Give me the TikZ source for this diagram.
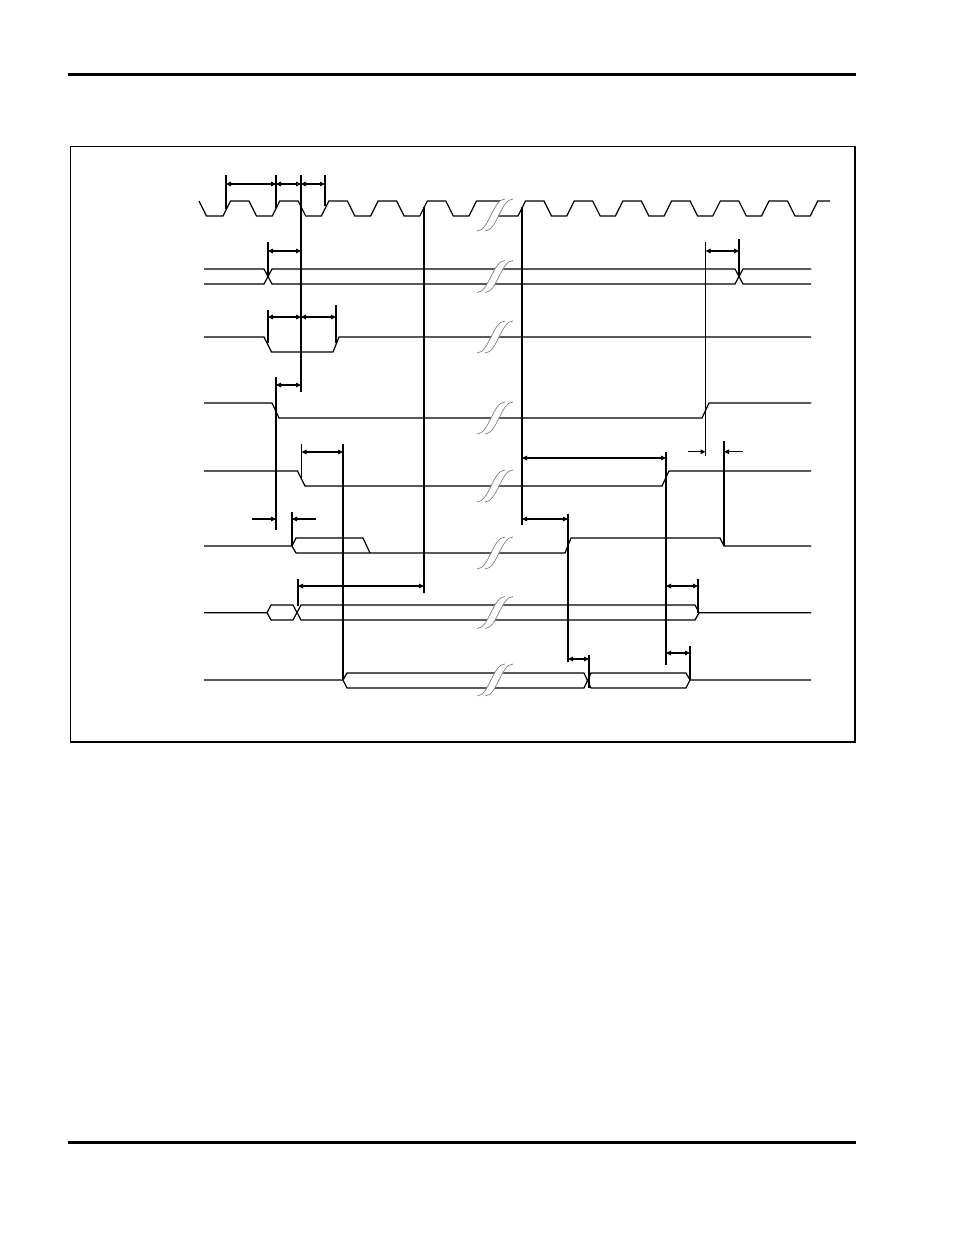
\documentclass[tikz,border=0pt]{standalone}
\usetikzlibrary{arrows.meta}
\newcommand\tdbreak[1]{%
  \fill[white] (477,{#1+16}) .. controls (489,{#1+16}) and (493,{#1-16}) .. (505,{#1-16})
     -- (513,{#1-16}) .. controls (501,{#1-16}) and (497,{#1+16}) .. (485,{#1+16}) -- cycle;
  \draw[brkline] (477,{#1+16}) .. controls (489,{#1+16}) and (493,{#1-16}) .. (505,{#1-16});
  \draw[brkline] (485,{#1+16}) .. controls (497,{#1+16}) and (501,{#1-16}) .. (513,{#1-16});
}
\newcommand\dimarr[3]{\draw[dimline] (#1,#3) -- (#2,#3);}
\newcommand\inarr[3]{\draw[inline] (#1,#3) -- (#2,#3);}
\begin{document}
\begin{tikzpicture}[x=1pt,y=-1pt,
  sig/.style={line width=1.2pt, line join=miter},
  refline/.style={line width=1.2pt},
  dimline/.style={line width=1.1pt, {Triangle[length=5pt,width=4.5pt]}-{Triangle[length=5pt,width=4.5pt]}},
  inline/.style={line width=1.1pt, -{Triangle[length=5pt,width=4.5pt]}},
  brkline/.style={gray, line width=0.7pt}]
\useasboundingbox (0,0) rectangle (954,1235);
% page rules and frame
\draw[line width=3pt] (68,74.5) -- (856,74.5);
\draw[line width=3pt] (68,1142) -- (856,1142);
\draw[line width=1.4pt] (70.5,146.5) rectangle (855,742);
% clock
\draw[sig] (199,201) -- (206.5,216)
  \foreach \r in {223,272.2,321.4,370.6,419.8} { -- (\r,216) -- ({\r+7.5},201) -- ({\r+26},201) -- ({\r+33.5},216) }
  -- (469,216) -- (476.5,201) -- (503,201);
\draw[sig] (494,216)
  \foreach \r in {518,566.7,615.4,664.1,712.8,761.5} { -- (\r,216) -- ({\r+7.5},201) -- ({\r+26},201) -- ({\r+33.5},216) }
  -- (810.2,216) -- (817.7,201) -- (830,201);
% signal 2 (bus)
\draw[sig] (204,269) -- (264,269) -- (272,284) -- (735,284) -- (743,269) -- (811,269);
\draw[sig] (204,284) -- (264,284) -- (272,269) -- (735,269) -- (743,284) -- (811,284);
% signal 3
\draw[sig] (204,337) -- (264,337) -- (271.5,352) -- (333,352) -- (339,337) -- (811,337);
% signal 4
\draw[sig] (204,403) -- (272,403) -- (279,418) -- (702,418) -- (709,403) -- (811,403);
% signal 5
\draw[sig] (204,471) -- (297.5,471) -- (305,486) -- (662,486) -- (669,471) -- (811,471);
% signal 6
\draw[sig] (204,546) -- (292,546) -- (296,538) -- (363,538) -- (370,553);
\draw[sig] (292,546) -- (296,553) -- (565,553) -- (571,538) -- (720,538) -- (724,546) -- (811,546);
% signal 7 (bus)
\draw[sig] (204,612.7) -- (267,612.7) -- (271,605) -- (293,605) -- (301,620) -- (695,620) -- (699,612.7) -- (811,612.7);
\draw[sig] (267,612.7) -- (271,620) -- (293,620) -- (301,605) -- (695,605) -- (699,612.7);
% signal 8 (bus)
\draw[sig] (204,680) -- (343,680) -- (347,673) -- (584,673) -- (591,688) -- (686,688) -- (690,680) -- (811,680);
\draw[sig] (343,680) -- (347,688) -- (584,688) -- (591,673) -- (686,673) -- (690,680);
% breaks
\tdbreak{215}
\tdbreak{276.5}
\tdbreak{337}
\tdbreak{418}
\tdbreak{486}
\tdbreak{553}
\tdbreak{612.5}
\tdbreak{680}
% reference lines
\draw[refline] (301,175) -- (301,392);
\draw[refline] (226,175) -- (226,209);
\draw[refline] (276,175) -- (276,208);
\draw[refline] (325,175) -- (325,206);
\draw[refline] (424,207) -- (424,593);
\draw[refline] (522,207) -- (522,525);
\draw[refline] (268,242) -- (268,276);
\draw[refline] (268,310) -- (268,343);
\draw[refline] (336,305) -- (336,343);
\draw[refline] (276,377) -- (276,530);
\draw[refline] (301.5,444) -- (301.5,480);
\draw[refline] (343,444) -- (343,680);
\draw[refline] (292,512) -- (292,546);
\draw[refline] (298,579) -- (298,606);
\draw[refline] (666,452) -- (666,665);
\draw[refline] (568,514) -- (568,662);
\draw[refline] (589,655) -- (589,688);
\draw[refline] (698,579) -- (698,612.7);
\draw[refline] (690,646) -- (690,680);
\draw[refline] (739,239) -- (739,276);
\draw[refline] (705.5,242) -- (705.5,456);
\draw[refline] (724,441) -- (724,546);
% dimension arrows
\dimarr{226}{276}{184}
\dimarr{276}{301}{184}
\dimarr{301}{325}{184}
\dimarr{268}{301}{251}
\dimarr{705.5}{739}{251}
\dimarr{268}{301}{317}
\dimarr{301}{336}{317}
\dimarr{276}{301}{385}
\dimarr{301.5}{343}{452}
\dimarr{522}{666}{458}
\dimarr{522}{568}{519}
\dimarr{298}{424}{586}
\dimarr{666}{698}{586}
\dimarr{568}{589}{659}
\dimarr{666}{690}{653}
\inarr{688}{705.5}{451.7}
\inarr{743}{724}{451.7}
\inarr{252}{276}{519}
\inarr{316}{292}{519}
\end{tikzpicture}
\end{document}
